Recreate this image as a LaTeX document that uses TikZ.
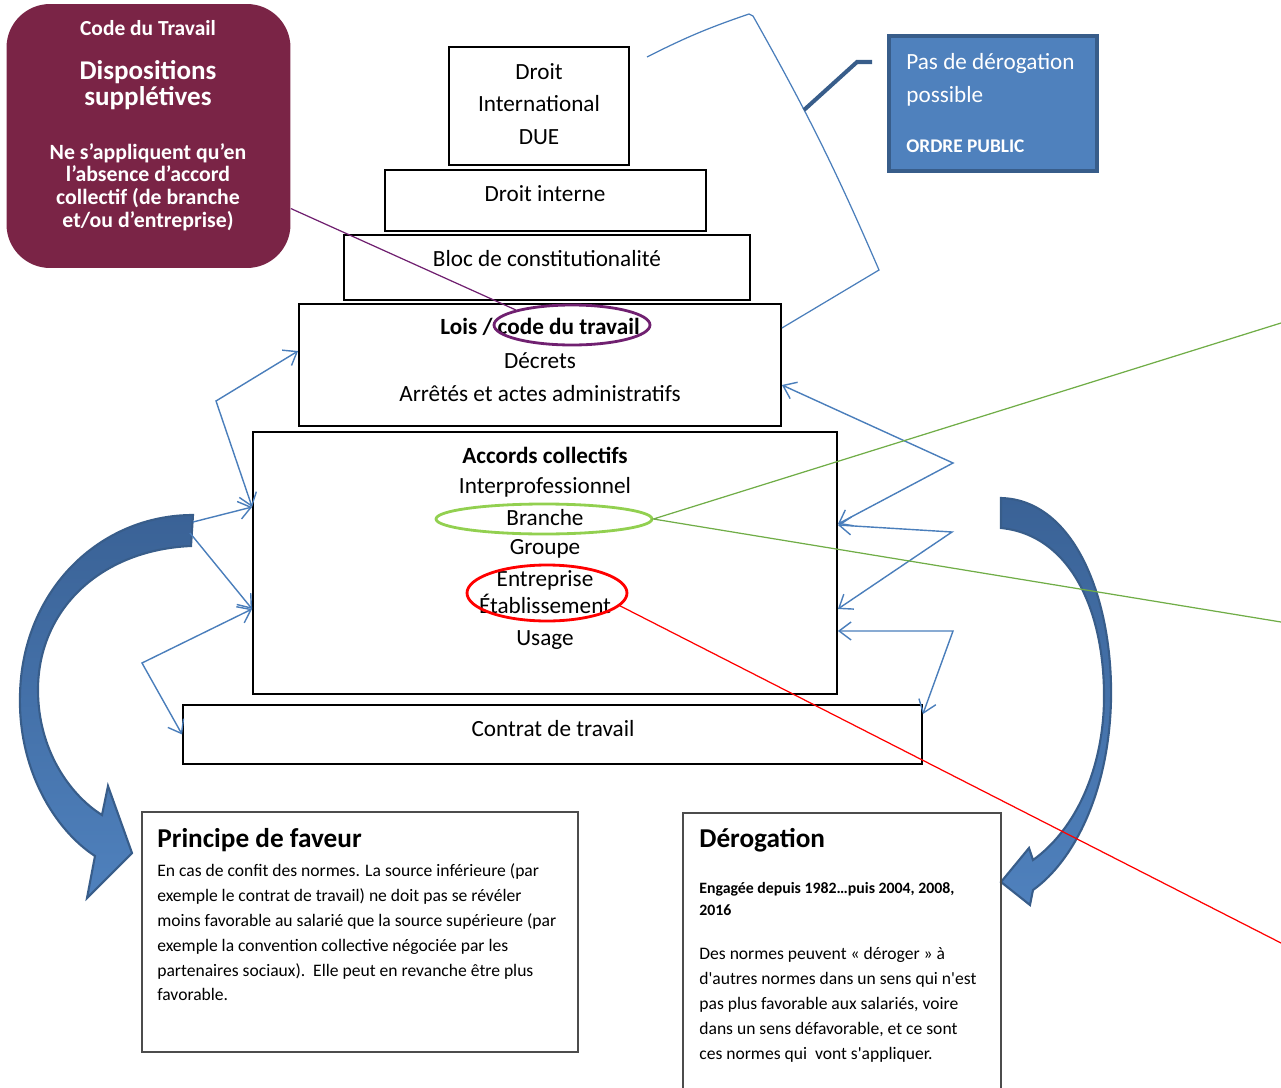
\documentclass[tikz,border=0pt]{standalone}
\usepackage{fontspec}
\setmainfont{Carlito}[Ligatures=TeXOff]
\usetikzlibrary{shapes.geometric,arrows.meta}

\definecolor{bordeaux}{RGB}{122,36,70}
\definecolor{bleu}{RGB}{79,129,189}
\definecolor{bleusombre}{RGB}{58,98,150}
\definecolor{bleufonce}{RGB}{56,93,138}
\definecolor{trait}{RGB}{74,126,187}
\definecolor{prune}{RGB}{112,32,112}
\definecolor{vertclair}{RGB}{146,208,80}
\definecolor{vert}{RGB}{112,173,71}

\begin{document}
\begin{tikzpicture}[
  x=0.02cm, y=-0.02cm,
  >={Straight Barb[length=2.4mm,width=3.6mm]},
  boite/.style={draw, line width=1.1pt, inner sep=0pt},
  cadre/.style={draw=black!70, line width=0.8pt, inner sep=0pt},
  texte/.style={font=\fontsize{13.2}{18.7}\selectfont, align=center, inner sep=0pt},
  blanc/.style={text=white, align=center, inner sep=0pt},
  corps/.style={anchor=north west, align=left, inner sep=0pt, font=\fontsize{10}{14.2}\selectfont},
  titre/.style={anchor=west, inner sep=0pt, font=\bfseries\fontsize{15.5}{18}\selectfont},
  fleche/.style={draw=trait, line width=0.8pt},
  grosse/.style={draw=bleufonce, line width=1.2pt, top color=bleusombre, bottom color=bleu},
  anneau/.style={ellipse, line width=1.6pt, inner sep=0pt}
]

\useasboundingbox (0,0) rectangle (1281,1088);
\clip (0,0) rectangle (1281,1088);

% grosses fleches courbes
\path[grosse] (193,515) .. controls (100,515) and (22,590) .. (20,695)
  .. controls (18,770) and (55,830) .. (95,856)
  -- (87,898) -- (132,853) -- (108,786) -- (102,815)
  .. controls (70,795) and (38,750) .. (38,690)
  .. controls (38,610) and (100,550) .. (191,546) -- cycle;
\path[grosse] (1001,498) .. controls (1075,500) and (1113,600) .. (1111,700)
  .. controls (1109,790) and (1075,860) .. (1033,890)
  -- (1030,905) -- (1001,882) -- (1029,848) -- (1033,860)
  .. controls (1075,830) and (1103,770) .. (1104,700)
  .. controls (1105,610) and (1070,535) .. (1001,528) -- cycle;

% pyramide des normes
\node[boite, minimum width=3.6cm, minimum height=2.36cm] (due) at (539,106) {};
\node[texte] (due-t) at (539,104) {Droit\\International\\DUE};
\node[boite, minimum width=6.42cm, minimum height=1.22cm] (interne) at (545.5,200.5) {};
\node[texte] (interne-t) at (545,194) {Droit interne};
\node[boite, minimum width=8.12cm, minimum height=1.3cm] (bloc) at (547,267.5) {};
\node[texte] (bloc-t) at (547,259) {Bloc de constitutionalité};
\node[boite, minimum width=9.64cm, minimum height=2.44cm] (lois) at (540,365) {};
\node[texte] (lois-t) at (540,327) {\bfseries Lois / code du travail};
\node[texte] (decrets) at (540,361) {Décrets};
\node[texte] (arretes) at (540,394) {Arrêtés et actes administratifs};
\node[boite, minimum width=11.68cm, minimum height=5.24cm] (accords) at (545,563) {};
\node[texte] (accords-t) at (545,455) {\bfseries Accords collectifs};
\node[texte] (interpro) at (545,487) {Interprofessionnel};
\node[texte] (branche) at (545,518) {Branche};
\node[texte] (groupe) at (545,549) {Groupe};
\node[texte, font=\fontsize{13.2}{15.3}\selectfont] (entreprise) at (545,592) {Entreprise\\Établissement};
\node[texte] (usage) at (545,640) {Usage};
\node[boite, minimum width=14.78cm, minimum height=1.18cm] (contrat) at (552.5,734.5) {};
\node[texte] (contrat-t) at (553,729) {Contrat de travail};

\node[anneau, draw=prune, minimum width=3.12cm, minimum height=0.8cm] (cercle-code) at (572,325) {};
\node[anneau, draw=vertclair, minimum width=4.32cm, minimum height=0.6cm] (cercle-branche) at (544,519) {};
\node[anneau, draw=red, minimum width=3.2cm, minimum height=1.12cm] (cercle-ent) at (547,593) {};

% dispositions suppletives
\node[fill=bordeaux, rounded corners=0.87cm, minimum width=5.68cm, minimum height=5.28cm, inner sep=0pt] (supp) at (148.5,136) {};
\node[blanc, font=\bfseries\fontsize{12.2}{14}\selectfont] (supp-titre) at (148,28) {Code du Travail};
\node[blanc, font=\bfseries\fontsize{15.4}{15.2}\selectfont] (supp-dispo) at (148,85) {Dispositions\\supplétives};
\node[blanc, font=\bfseries\fontsize{12.4}{12.9}\selectfont] (supp-ne) at (148,187) {Ne s’appliquent qu’en\\l’absence d’accord\\collectif (de branche\\et/ou d’entreprise)};

% ordre public
\node[fill=bleu, draw=bleufonce, line width=2pt, minimum width=4.16cm, minimum height=2.7cm, inner sep=0pt] (ordre) at (993,103.5) {};
\node[blanc, anchor=west, align=left, font=\fontsize{13.2}{18.7}\selectfont] (ordre-t) at (906,80) {Pas de dérogation\\possible};
\node[blanc, anchor=west, font=\bfseries\fontsize{11}{13}\selectfont] (ordre-op) at (906,146) {ORDRE PUBLIC};

% principe de faveur
\node[cadre, minimum width=8.72cm, minimum height=4.8cm] (faveur) at (360,932) {};
\node[titre] (faveur-titre) at (157,840) {Principe de faveur};
\node[corps] (faveur-t) at (157,863) {En cas de confit des normes. La source inférieure (par\\
exemple le contrat de travail) ne doit pas se révéler\\
moins favorable au salarié que la source supérieure (par\\
exemple la convention collective négociée par les\\
partenaires sociaux).\ \ Elle peut en revanche être plus\\
favorable.};

% derogation
\node[cadre, minimum width=6.36cm, minimum height=5.64cm] (derog) at (842,954) {};
\node[titre] (derog-titre) at (699,840) {Dérogation};
\node[corps, font=\bfseries\fontsize{9}{12.5}\selectfont] (derog-date) at (699,882) {Engagée depuis 1982…puis 2004, 2008,\\2016};
\node[corps] (derog-t) at (699,947) {Des normes peuvent « déroger » à\\
d'autres normes dans un sens qui n'est\\
pas plus favorable aux salariés, voire\\
dans un sens défavorable, et ce sont\\
ces normes qui\ \ vont s'appliquer.};

% connecteurs
\coordinate (g1) at (216,401);
\coordinate (g2) at (142,663);
\coordinate (q1) at (193,522);
\coordinate (q2) at (190,533);
\coordinate (d1) at (953,463);
\coordinate (d2) at (952,532);
\coordinate (d3) at (953,631);
\coordinate (b1) at (647,57);
\coordinate (b2) at (749,14);
\coordinate (b3) at (753,16);
\coordinate (b4) at (879,270);
\coordinate (c1) at (872,62);
\coordinate (c2) at (857,62);
\coordinate (c3) at (804,110);
\coordinate (v1) at (1281,323);
\coordinate (v2) at (1281,622);
\coordinate (r1) at (1281,943);

\draw[fleche, <->] ([yshift=0.28cm]lois.west) -- (g1) -- ([yshift=1.12cm]accords.west);
\draw[fleche, ->] (q1) -- ([yshift=1.12cm]accords.west);
\draw[fleche, ->] (q2) -- ([yshift=-0.92cm]accords.west);
\draw[fleche, <->] ([yshift=-0.92cm]accords.west) -- (g2) -- (contrat.west);
\draw[fleche, <->] ([yshift=-0.4cm]lois.east) -- (d1) -- ([yshift=0.78cm]accords.east);
\draw[fleche, <->] ([yshift=0.76cm]accords.east) -- (d2) -- ([yshift=-0.92cm]accords.east);
\draw[fleche, <->] ([yshift=-1.36cm]accords.east) -- (d3) -- ([yshift=-0.2cm]contrat.north east);

\draw[fleche, line width=0.7pt] (b1) to[bend left=4] (b2) -- (b3) to[bend left=3] (b4) -- ([yshift=0.74cm]lois.east);
\draw[bleufonce, line width=2.3pt] (c1) -- (c2) -- (c3);

\draw[prune, line width=0.7pt] (supp.-27) -- (cercle-code.165);
\draw[vert, line width=0.7pt] (v1) -- (cercle-branche.east) -- (v2);
\draw[red, line width=0.7pt] (cercle-ent.-10) -- (r1);

\end{tikzpicture}
\end{document}
